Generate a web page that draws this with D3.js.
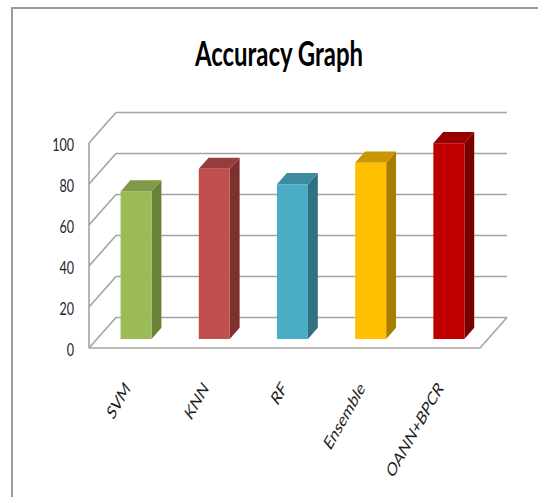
<!DOCTYPE html>
<html>
<head>
<meta charset="utf-8">
<script src="https://cdn.jsdelivr.net/npm/d3@7"></script>
<style>
  html, body { margin: 0; padding: 0; background: #fff; }
  svg { display: block; }
</style>
</head>
<body>
<svg id="chart" width="538" height="497"></svg>
<script>
// ---- data ----
const categories = ["SVM", "KNN", "RF", "Ensemble", "OANN+BPCR"];
const accuracy = [72, 83, 75.5, 86, 95.5];
const yTicks = [0, 20, 40, 60, 80, 100];
const chartTitle = "Accuracy Graph";

// ---- styles (separate from data) ----
const faceColors = ["#9BBB59", "#C0504D", "#4BACC6", "#FFC000", "#C00000"];
const sideColors = ["#6A8139", "#7E302E", "#2F7083", "#A87E00", "#7A0000"];
const topColors  = ["#7E9A46", "#973D3B", "#3B8CA2", "#C99800", "#960000"];

const svg = d3.select("#chart");
const W = 538, H = 497;

// frame (top and left edge)
svg.append("line").attr("x1", 11).attr("y1", 8).attr("x2", W).attr("y2", 8)
  .attr("stroke", "#9c9c9c").attr("stroke-width", 2);
svg.append("line").attr("x1", 12).attr("y1", 7).attr("x2", 12).attr("y2", H)
  .attr("stroke", "#9c9c9c").attr("stroke-width", 2);

// geometry of the 3D box
const left = 89, right = 480, floorY = 348, topY = 143;
const depth = { dx: 27, dy: -30.5 };
const barFront = 0.295, barBack = 0.66; // fraction of depth occupied by bars

const x = d3.scaleBand().domain(categories).range([left, right]).paddingInner(0).paddingOuter(0);
const y = d3.scaleLinear().domain([0, 100]).range([floorY, topY]);

const gridColor = "#a3a3a3";
const g = svg.append("g");

// back wall gridlines
g.selectAll("line.back").data(yTicks).join("line")
  .attr("class", "back")
  .attr("x1", left + depth.dx).attr("x2", right + depth.dx)
  .attr("y1", d => y(d) + depth.dy).attr("y2", d => y(d) + depth.dy)
  .attr("stroke", gridColor).attr("stroke-width", 1.6);

// left wall diagonals
g.selectAll("line.side").data(yTicks).join("line")
  .attr("class", "side")
  .attr("x1", left).attr("x2", left + depth.dx)
  .attr("y1", d => y(d)).attr("y2", d => y(d) + depth.dy)
  .attr("stroke", gridColor).attr("stroke-width", 1.6);

// left wall front vertical edge
g.append("line").attr("x1", left).attr("x2", left)
  .attr("y1", y(0)).attr("y2", y(100))
  .attr("stroke", gridColor).attr("stroke-width", 1.6);

// floor front edge and right edge
g.append("line").attr("x1", left).attr("x2", right)
  .attr("y1", y(0)).attr("y2", y(0))
  .attr("stroke", gridColor).attr("stroke-width", 1.6);
g.append("line").attr("x1", right).attr("x2", right + depth.dx)
  .attr("y1", y(0)).attr("y2", y(0) + depth.dy)
  .attr("stroke", gridColor).attr("stroke-width", 1.6);

// bars
const barW = 31;
const fdx = depth.dx * barFront, fdy = depth.dy * barFront;
const bdx = depth.dx * (barBack - barFront), bdy = depth.dy * (barBack - barFront);

const bars = svg.append("g").selectAll("g.bar").data(categories).join("g").attr("class", "bar");
bars.each(function (c, i) {
  const sel = d3.select(this);
  const cx = x(c) + x.bandwidth() / 2 + fdx;
  const x0 = cx - barW / 2, x1 = cx + barW / 2;
  const yb = y(0) + fdy, yt = y(accuracy[i]) + fdy;
  // side face
  sel.append("polygon")
    .attr("points", [[x1, yb], [x1 + bdx, yb + bdy], [x1 + bdx, yt + bdy], [x1, yt]].map(p => p.join(",")).join(" "))
    .attr("fill", sideColors[i]);
  // top face
  sel.append("polygon")
    .attr("points", [[x0, yt], [x1, yt], [x1 + bdx, yt + bdy], [x0 + bdx, yt + bdy]].map(p => p.join(",")).join(" "))
    .attr("fill", topColors[i]);
  // front face
  sel.append("rect").attr("x", x0).attr("y", yt).attr("width", barW).attr("height", yb - yt)
    .attr("fill", faceColors[i]);
});

// y axis labels
const sx = 0.74;
const yAxis = d3.axisLeft(y).tickValues(yTicks).tickSize(0).tickPadding(0).tickFormat(d3.format("d"));
const ag = svg.append("g").attr("transform", `translate(${left},0)`).call(yAxis);
ag.select(".domain").remove();
ag.selectAll(".tick text")
  .attr("x", -15 / sx)
  .attr("dy", "0.45em")
  .attr("transform", `scale(${sx},1)`)
  .attr("font-family", "Lato, 'Open Sans', sans-serif")
  .attr("font-size", 17)
  .attr("fill", "#1e1e2a");

// category labels
const csx = 0.7;
svg.append("g").selectAll("text").data(categories).join("text")
  .attr("transform", c => `translate(${x(c) + x.bandwidth() / 2 + 3},389) scale(${csx},1) rotate(-51)`)
  .attr("text-anchor", "end")
  .attr("font-family", "Lato, 'Open Sans', sans-serif")
  .attr("font-size", 19)
  .attr("fill", "#1e1e1e")
  .text(c => c);

// title
svg.append("text")
  .attr("x", 279).attr("y", 66)
  .attr("text-anchor", "middle")
  .attr("font-family", "Lato, 'Open Sans', sans-serif")
  .attr("font-weight", "bold")
  .attr("font-size", 35)
  .attr("textLength", 168)
  .attr("lengthAdjust", "spacingAndGlyphs")
  .attr("fill", "#000")
  .text(chartTitle);
</script>
</body>
</html>
